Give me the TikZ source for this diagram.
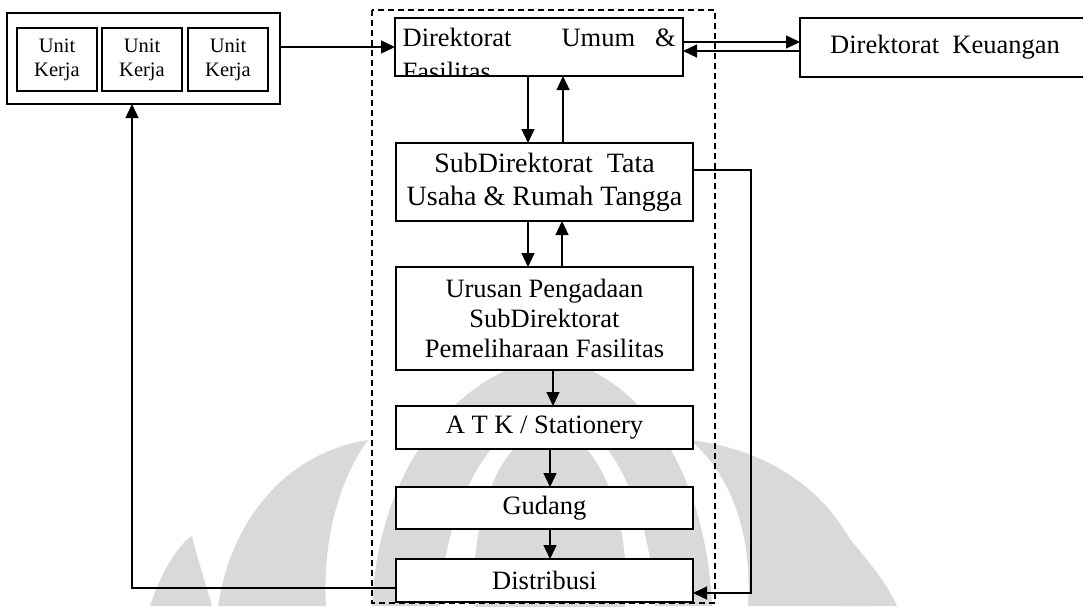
\documentclass[tikz,border=0pt]{standalone}
\usepackage{fontspec}
\setmainfont{Liberation Serif}
\usetikzlibrary{arrows.meta}
\usetikzlibrary{positioning}

\begin{document}
\begin{tikzpicture}[
		x=1pt, y=-1pt,
		->,
		>={Triangle[length=14pt,width=13pt]},
		line width=1.3pt,
		box/.style={draw, line width=1.5pt, fill=white, inner sep=0pt, outer sep=0pt,
			align=center, minimum width=297pt, font=\fontsize{26.5}{32}\selectfont},
		unit box/.style={box, line width=1.3pt, minimum width=80pt, minimum height=63pt,
			font=\fontsize{20.5}{24}\selectfont},
		watermark/.style={fill=black!15, draw=none}
		]
		\useasboundingbox (0,0) rectangle (1083,606);
		\clip (0,0) rectangle (1083,606);
		
		% watermark in the background
		\fill[watermark] (150,606) .. controls (162,570) and (178,545) .. (192,536) .. controls (198,560) and (206,585) .. (212,606) -- cycle;
		\fill[watermark] (218,606) .. controls (232,515) and (290,452) .. (368,440) .. controls (340,478) and (322,540) .. (326,606) -- cycle;
		\fill[watermark] (372,606) .. controls (378,470) and (455,372) .. (550,357) .. controls (640,372) and (706,470) .. (712,606) -- cycle;
		\fill[white] (440,606) .. controls (445,500) and (495,418) .. (550,410) .. controls (605,418) and (650,500) .. (655,606) -- cycle;
		\fill[watermark] (550,585) ellipse [x radius=76pt, y radius=155pt];
		\fill[watermark] (873,606) .. controls (858,515) and (790,452) .. (690,440) .. controls (735,478) and (752,540) .. (748,606) -- cycle;
		\fill[watermark] (840,606) .. controls (842,575) and (844,550) .. (847,536) .. controls (868,560) and (888,585) .. (897,606) -- cycle;
		
		\draw[-, line width=1.2pt, dash pattern=on 6pt off 4pt] (372,10) rectangle (715,603);
		
		\node[box, line width=1.5pt, minimum width=273pt, minimum height=91pt] (units) at (143.5,58.5) {};
		\node[unit box] (unitA) at (57,59.5) {Unit\\Kerja};
		\node[unit box, right=5pt of unitA] (unitB) {Unit\\Kerja};
		\node[unit box, right=6pt of unitB] (unitC) {Unit\\Kerja};
		
		\node[box, minimum width=288pt, minimum height=58pt] (dirumum) at (539,47) {};
		\begin{scope}
			\clip (dirumum.south west) rectangle (dirumum.north east);
			\node[anchor=base west, inner sep=0pt, font=\fontsize{26.5}{32}\selectfont] (dirumumA) at (402,46) {Direktorat\hspace{50pt}Umum\hspace{20pt}\&};
			\node[anchor=base west, inner sep=0pt, font=\fontsize{26.5}{32}\selectfont] (dirumumB) at (402,80) {Fasilitas};
		\end{scope}
		
		\node[box, minimum width=290pt, minimum height=59pt] (keuangan) at (945,47.5) {Direktorat\ \ Keuangan};
		
		\node[box, minimum height=78pt, below=67pt of dirumum, xshift=5.5pt, font=\fontsize{28}{33}\selectfont] (subdir) {SubDirektorat\ \ Tata\\Usaha \& Rumah Tangga};
		\node[box, minimum height=103pt, below=46pt of subdir, font=\fontsize{26.5}{30}\selectfont] (urusan) {Urusan Pengadaan\\SubDirektorat\\Pemeliharaan Fasilitas};
		\node[box, minimum height=43pt, below=36pt of urusan] (atk) {A T K / Stationery};
		\node[box, minimum height=42pt, below=38pt of atk] (gudang) {Gudang};
		\node[box, minimum height=43pt, below=30pt of gudang] (distribusi) {Distribusi};
		
		\coordinate (k1) at ([yshift=5pt]dirumum.east);
		\coordinate (k2) at ([yshift=-4pt]dirumum.east);
		
		\draw (units.east |- dirumum.west) -- (dirumum.west);
		\draw (k1) -- (k1 -| keuangan.west);
		\draw (k2 -| keuangan.west) -- (k2);
		\draw ([xshift=-11pt]dirumum.south) -- ([xshift=-16.5pt]subdir.north);
		\draw ([xshift=18.5pt]subdir.north) -- ([xshift=24pt]dirumum.south);
		\draw ([xshift=-16.5pt]subdir.south) -- ([xshift=-16.5pt]urusan.north);
		\draw ([xshift=17.5pt]urusan.north) -- ([xshift=17.5pt]subdir.south);
		\draw ([xshift=8.5pt]urusan.south) -- ([xshift=8.5pt]atk.north);
		\draw ([xshift=5.5pt]atk.south) -- ([xshift=5.5pt]gudang.north);
		\draw ([xshift=5.5pt]gudang.south) -- ([xshift=5.5pt]distribusi.north);
		\draw ([yshift=12pt]subdir.east) -- ++(58,0) |- ([yshift=-12.5pt]distribusi.east);
		\draw ([yshift=-7.5pt]distribusi.west) -| ([xshift=-11.5pt]units.south);
	\end{tikzpicture}
\end{document}
